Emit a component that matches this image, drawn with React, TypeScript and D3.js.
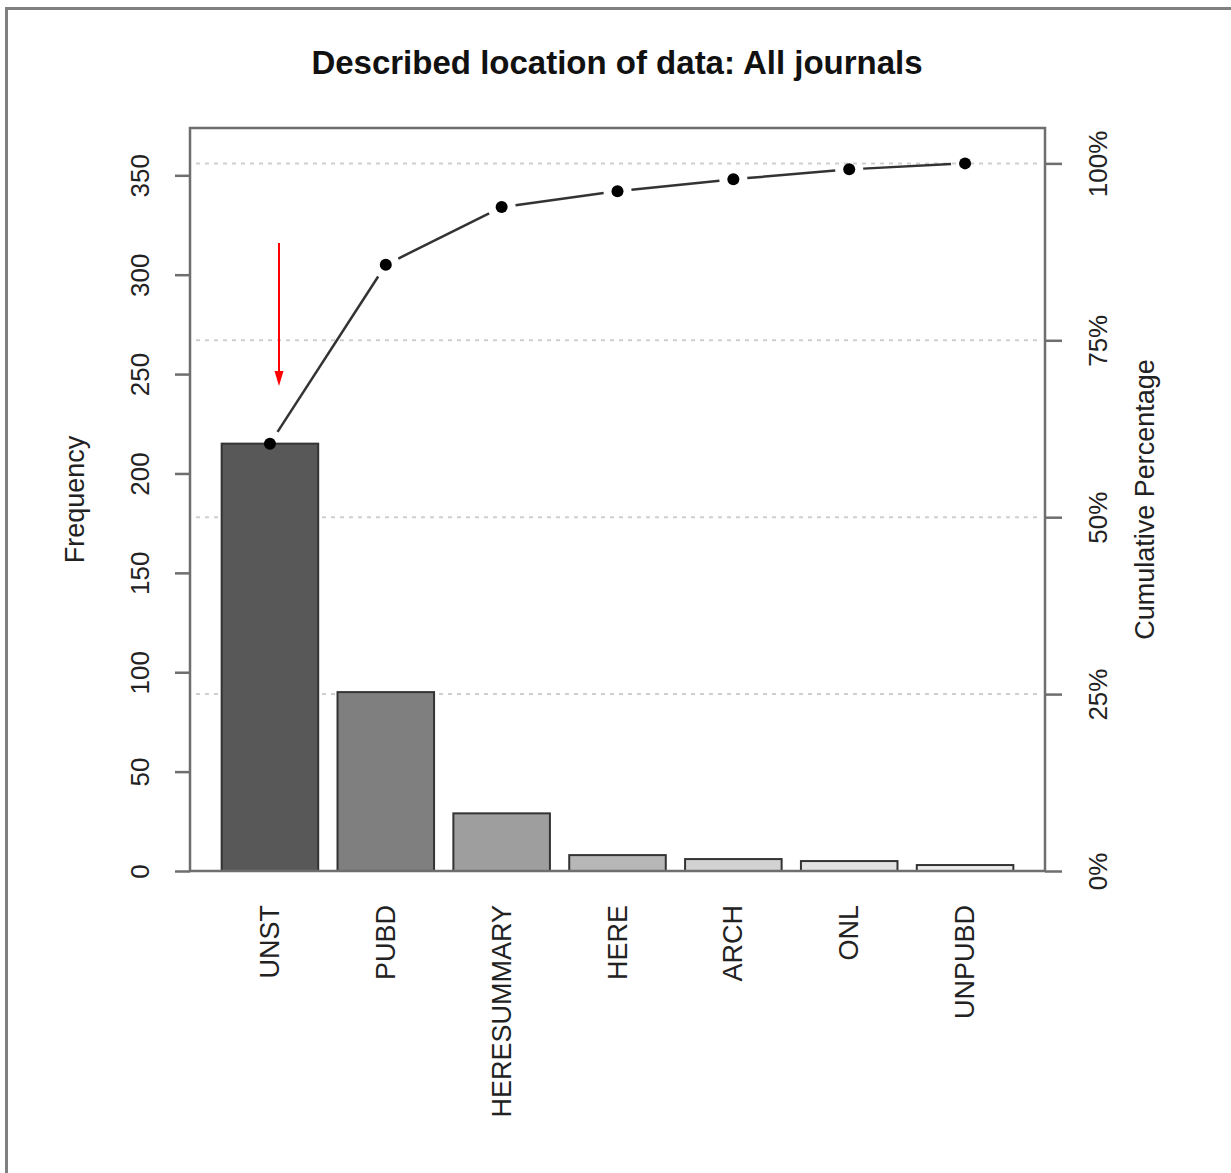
import React, { useEffect, useRef } from 'react';
import * as d3 from 'd3';

const categories = ['UNST', 'PUBD', 'HERESUMMARY', 'HERE', 'ARCH', 'ONL', 'UNPUBD'];
const frequencies = [215, 90, 29, 8, 6, 5, 3];
const barColors = ['#585858', '#7f7f7f', '#9e9e9e', '#b7b7b7', '#d2d2d2', '#e2e2e2', '#ececec'];
const freqTicks = [0, 50, 100, 150, 200, 250, 300, 350];
const pctTicks = [0, 0.25, 0.5, 0.75, 1];

const W = 1231;
const H = 1173;
const FONT = '"Liberation Sans", Arial, Helvetica, sans-serif';

const ParetoChart: React.FC = () => {
  const svgRef = useRef<SVGSVGElement | null>(null);

  useEffect(() => {
    if (!svgRef.current) return;
    const svg = d3.select(svgRef.current);
    svg.selectAll('*').remove();

    const box = { left: 190, right: 1045, top: 128, bottom: 871 };
    const total = d3.sum(frequencies);
    const cum = Array.from(d3.cumsum(frequencies));

    const x = d3
      .scaleBand<string>()
      .domain(categories)
      .range([box.left, box.right])
      .paddingInner(0.2 / 1.2)
      .paddingOuter(0.2733);

    // qcc style: ylim = c(0, 1.05 * total)
    const y = d3.scaleLinear().domain([0, total * 1.05]).range([box.bottom, box.top]);
    const yPct = d3.scaleLinear().domain([0, 1.05]).range([box.bottom, box.top]);

    // outer frame (left + top edges only)
    svg.append('line').attr('x1', 6.5).attr('x2', 6.5).attr('y1', 8.5).attr('y2', H)
      .attr('stroke', '#808080').attr('stroke-width', 3);
    svg.append('line').attr('x1', 5).attr('x2', W).attr('y1', 8.5).attr('y2', 8.5)
      .attr('stroke', '#808080').attr('stroke-width', 3);

    // dotted grid on the percentage scale
    svg.append('g')
      .selectAll('line')
      .data(pctTicks.filter((d) => d > 0))
      .enter()
      .append('line')
      .attr('x1', box.left + 6)
      .attr('x2', box.right - 4)
      .attr('y1', (d) => yPct(d))
      .attr('y2', (d) => yPct(d))
      .attr('stroke', '#cfcfcf')
      .attr('stroke-width', 2)
      .attr('stroke-dasharray', '4 5');

    // bars
    svg.append('g')
      .selectAll('rect')
      .data(frequencies)
      .enter()
      .append('rect')
      .attr('x', (_, i) => x(categories[i])!)
      .attr('y', (d) => y(d))
      .attr('width', x.bandwidth())
      .attr('height', (d) => box.bottom - y(d))
      .attr('fill', (_, i) => barColors[i])
      .attr('stroke', '#333')
      .attr('stroke-width', 2);

    // plot box
    svg.append('rect')
      .attr('x', box.left).attr('y', box.top)
      .attr('width', box.right - box.left).attr('height', box.bottom - box.top)
      .attr('fill', 'none').attr('stroke', '#6e6e6e').attr('stroke-width', 2.5);

    // left axis
    const left = svg.append('g')
      .attr('transform', `translate(${box.left},0)`)
      .call(d3.axisLeft(y).tickValues(freqTicks).tickSize(15).tickFormat(d3.format('d')));
    left.select('.domain').remove();
    left.selectAll('.tick line').attr('stroke', '#6e6e6e').attr('stroke-width', 2.5);
    left.selectAll('.tick text')
      .attr('x', null).attr('dy', null)
      .attr('transform', 'translate(-50,0) rotate(-90)')
      .attr('text-anchor', 'middle')
      .attr('dominant-baseline', 'central')
      .attr('fill', '#222')
      .style('font-size', '26px')
      .style('font-family', FONT);

    // right axis
    const right = svg.append('g')
      .attr('transform', `translate(${box.right},0)`)
      .call(d3.axisRight(yPct).tickValues(pctTicks).tickSize(17).tickFormat((d) => `${Math.round(+d * 100)}%`));
    right.select('.domain').remove();
    right.selectAll('.tick line').attr('stroke', '#6e6e6e').attr('stroke-width', 2.5);
    right.selectAll('.tick text')
      .attr('x', null).attr('dy', null)
      .attr('transform', 'translate(53,0) rotate(-90)')
      .attr('text-anchor', 'middle')
      .attr('dominant-baseline', 'central')
      .attr('fill', '#222')
      .style('font-size', '26px')
      .style('font-family', FONT);

    // category labels
    svg.append('g')
      .selectAll('text')
      .data(categories)
      .enter()
      .append('text')
      .attr('transform', (d) => `translate(${x(d)! + x.bandwidth() / 2},905) rotate(-90)`)
      .attr('text-anchor', 'end')
      .attr('dominant-baseline', 'central')
      .attr('fill', '#222')
      .style('font-size', '27px')
      .style('font-family', FONT)
      .text((d) => d);

    // cumulative line (type = "b": segments with gaps around points)
    const pts: [number, number][] = cum.map((c, i) => [x(categories[i])! + x.bandwidth() / 2, y(c)]);
    const gap = 14;
    for (let i = 0; i < pts.length - 1; i++) {
      const [x0, y0] = pts[i];
      const [x1, y1] = pts[i + 1];
      const len = Math.hypot(x1 - x0, y1 - y0);
      if (len <= gap * 2) continue;
      const ux = (x1 - x0) / len;
      const uy = (y1 - y0) / len;
      svg.append('line')
        .attr('x1', x0 + ux * gap).attr('y1', y0 + uy * gap)
        .attr('x2', x1 - ux * gap).attr('y2', y1 - uy * gap)
        .attr('stroke', '#333').attr('stroke-width', 2.5);
    }
    svg.append('g')
      .selectAll('circle')
      .data(pts)
      .enter()
      .append('circle')
      .attr('cx', (d) => d[0])
      .attr('cy', (d) => d[1])
      .attr('r', 6)
      .attr('fill', '#000');

    // red annotation arrow
    svg.append('line')
      .attr('x1', 279).attr('x2', 279).attr('y1', 243).attr('y2', 372)
      .attr('stroke', '#ff0000').attr('stroke-width', 2);
    svg.append('path')
      .attr('d', 'M274.5,371 L283.5,371 L279,386 Z')
      .attr('fill', '#ff0000');

    // titles
    svg.append('text')
      .attr('x', 617).attr('y', 74)
      .attr('text-anchor', 'middle')
      .style('font-size', '33px').style('font-weight', 'bold')
      .style('font-family', FONT)
      .attr('fill', '#111')
      .text('Described location of data: All journals');

    svg.append('text')
      .attr('transform', `translate(75,${(box.top + box.bottom) / 2}) rotate(-90)`)
      .attr('text-anchor', 'middle').attr('dominant-baseline', 'central')
      .style('font-size', '27px').style('font-family', FONT)
      .attr('fill', '#222')
      .text('Frequency');

    svg.append('text')
      .attr('transform', `translate(1145,${(box.top + box.bottom) / 2}) rotate(-90)`)
      .attr('text-anchor', 'middle').attr('dominant-baseline', 'central')
      .style('font-size', '27px').style('font-family', FONT)
      .attr('fill', '#222')
      .text('Cumulative Percentage');
  }, []);

  return (
    <svg
      ref={svgRef}
      width={W}
      height={H}
      style={{ position: 'absolute', left: 0, top: 0, background: '#fff' }}
    />
  );
};

export default function App() {
  return <ParetoChart />;
}
